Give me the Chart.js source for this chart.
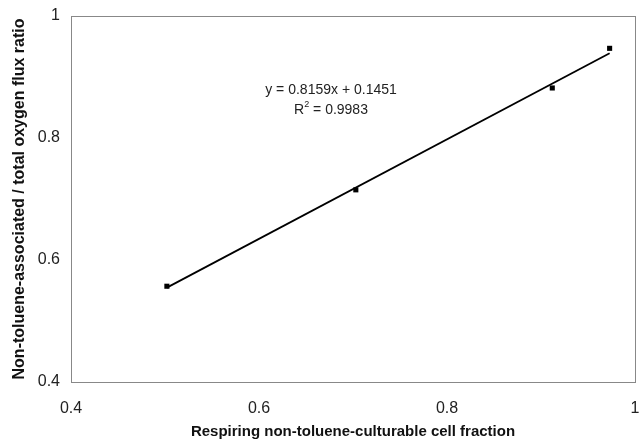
<!DOCTYPE html>
<html>
<head>
<meta charset="utf-8">
<script src="https://cdn.jsdelivr.net/npm/chart.js@4/dist/chart.umd.min.js"></script>
<style>
  html, body { margin: 0; padding: 0; background: #fff; }
  #wrap { width: 639px; height: 439px; }
</style>
</head>
<body>
<div id="wrap"><canvas id="grafico" width="639" height="439"></canvas></div>
<script>
// datos
const fraccionCelulas = [0.502, 0.703, 0.912, 0.973];
const razonFlujo = [0.557, 0.715, 0.882, 0.947];
const pendiente = 0.8159;
const intercepto = 0.1451;
const r2 = '0.9983';
const ticksEje = [0.4, 0.6, 0.8, 1];

// puntos de la recta de tendencia (extremos de los datos)
const xMin = Math.min(...fraccionCelulas);
const xMax = Math.max(...fraccionCelulas);
const tendencia = [xMin, xMax].map(x => ({ x: x, y: pendiente * x + intercepto }));

const fuente = "'Liberation Sans', Arial, sans-serif";

// marco completo del área de trazado + texto de la ecuación
const ecuacion = {
  id: 'ecuacion',
  beforeDatasetsDraw(chart) {
    const a = chart.chartArea;
    const ctx = chart.ctx;
    ctx.save();
    ctx.strokeStyle = '#888';
    ctx.lineWidth = 1;
    ctx.strokeRect(Math.round(a.left) + 0.5, Math.round(a.top) + 0.5,
                   Math.round(a.right - a.left), Math.round(a.bottom - a.top));
    ctx.restore();
  },
  afterDatasetsDraw(chart) {
    const ctx = chart.ctx;
    ctx.save();
    ctx.fillStyle = '#222';
    ctx.font = '14px ' + fuente;
    ctx.textBaseline = 'middle';
    ctx.textAlign = 'center';
    ctx.fillText('y = ' + pendiente + 'x + ' + intercepto, 331, 90);
    // R² con superíndice
    const resto = ' = ' + r2;
    const wR = ctx.measureText('R').width;
    ctx.font = '9px ' + fuente;
    const w2 = ctx.measureText('2').width;
    ctx.font = '14px ' + fuente;
    const wResto = ctx.measureText(resto).width;
    let x0 = 331 - (wR + w2 + wResto) / 2;
    ctx.textAlign = 'left';
    ctx.fillText('R', x0, 110);
    ctx.font = '9px ' + fuente;
    ctx.fillText('2', x0 + wR, 105);
    ctx.font = '14px ' + fuente;
    ctx.fillText(resto, x0 + wR + w2, 110);
    ctx.restore();
  }
};

new Chart(document.getElementById('grafico').getContext('2d'), {
  type: 'scatter',
  data: {
    datasets: [
      {
        label: 'Datos',
        data: fraccionCelulas.map((x, i) => ({ x: x, y: razonFlujo[i] })),
        pointStyle: 'rect',
        pointRadius: 3.6,
        backgroundColor: '#000',
        borderColor: '#000',
        borderWidth: 0
      },
      {
        label: 'Tendencia',
        type: 'line',
        data: tendencia,
        showLine: true,
        pointRadius: 0,
        borderColor: '#000',
        borderWidth: 1.8,
        fill: false
      }
    ]
  },
  options: {
    responsive: false,
    animation: false,
    layout: { padding: { top: 16, right: 1, left: 0, bottom: 0 } },
    plugins: { legend: { display: false }, tooltip: { enabled: false } },
    scales: {
      x: {
        type: 'linear',
        min: 0.4,
        max: 1,
        afterBuildTicks: s => { s.ticks = ticksEje.map(v => ({ value: v })); },
        afterFit: s => { s.height = 57; s.paddingLeft = 0; s.paddingRight = 0; },
        grid: { display: true, drawOnChartArea: false, drawTicks: false, color: '#888' },
        border: { display: true, color: '#888', width: 1 },
        ticks: { color: '#222', font: { family: fuente, size: 16 }, padding: 17,
                 callback: v => String(v) },
        title: { display: true, text: 'Respiring non-toluene-culturable cell fraction',
                 color: '#111', font: { family: fuente, size: 15, weight: 'bold', lineHeight: 0.9 },
                 padding: { top: 0, bottom: 0 } }
      },
      y: {
        type: 'linear',
        min: 0.4,
        max: 1,
        afterBuildTicks: s => { s.ticks = ticksEje.map(v => ({ value: v })); },
        afterFit: s => { s.width = 71; s.paddingTop = 0; s.paddingBottom = 0; },
        grid: { display: true, drawOnChartArea: false, drawTicks: false, color: '#888' },
        border: { display: true, color: '#888', width: 1 },
        ticks: { color: '#222', font: { family: fuente, size: 16 }, padding: 11,
                 callback: v => String(v) },
        title: { display: true, text: 'Non-toluene-associated / total oxygen flux ratio',
                 color: '#111', font: { family: fuente, size: 16, weight: 'bold' },
                 padding: { top: 10, bottom: 0 } }
      }
    }
  },
  plugins: [ecuacion]
});
</script>
</body>
</html>
